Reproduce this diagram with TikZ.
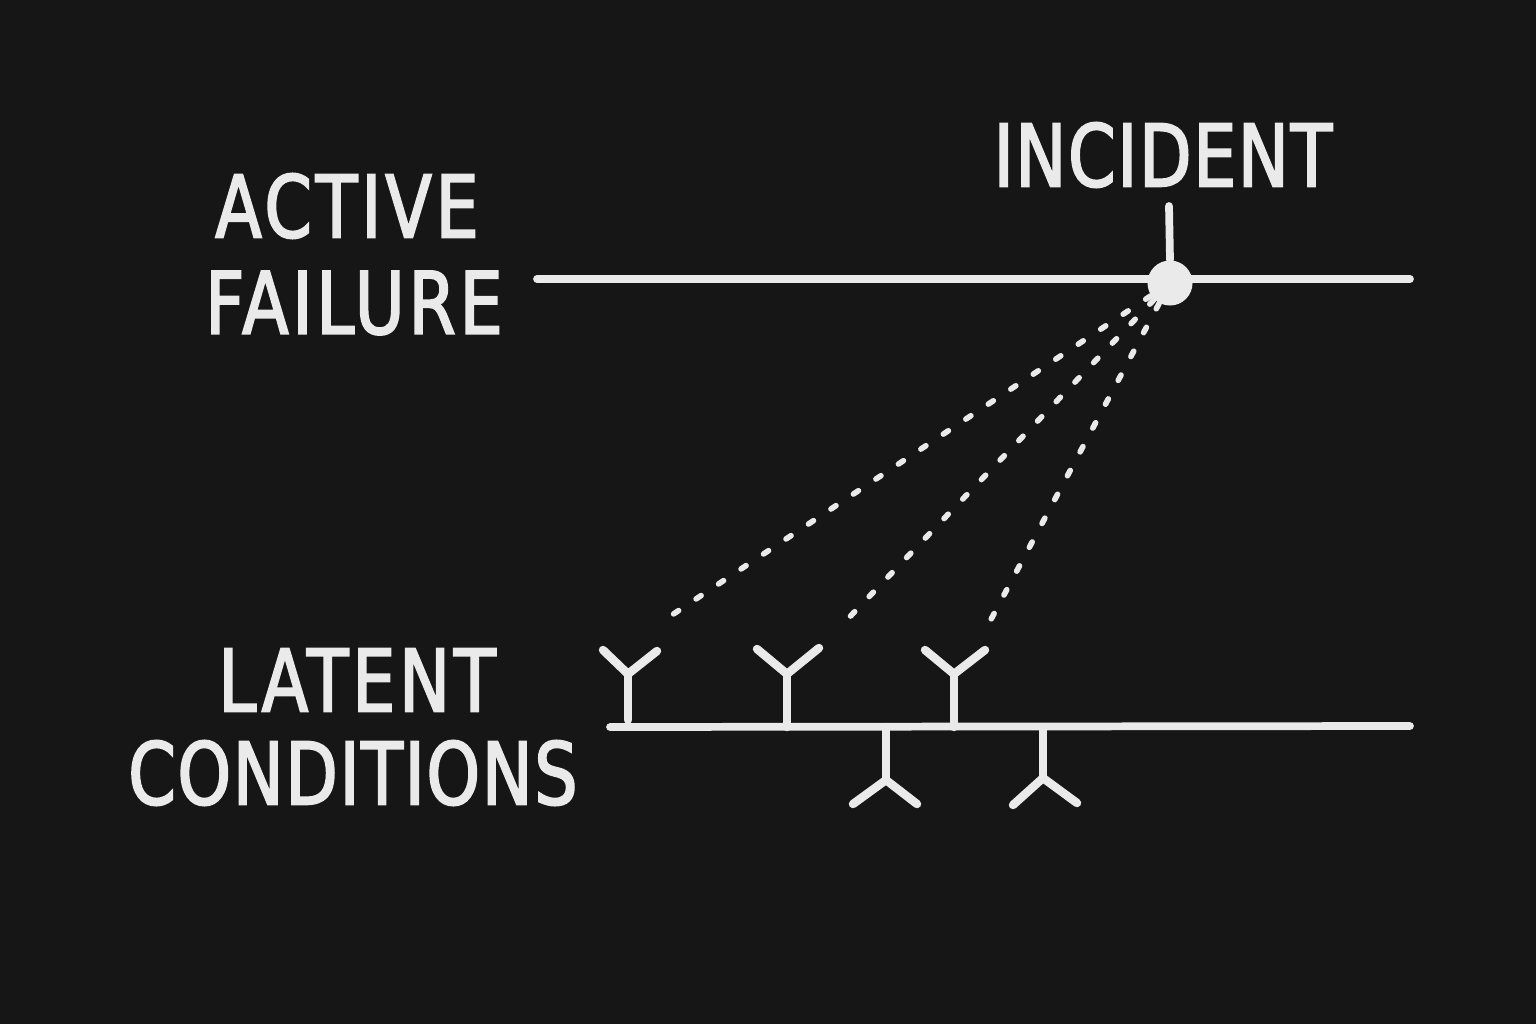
\documentclass[tikz,border=0pt]{standalone}
\usepackage{fontspec}
\newfontfamily\chalkfont[FakeStretch=0.79,FakeBold=2.2,LetterSpace=2]{DejaVu Sans}
\newfontfamily\chalkwide[FakeStretch=0.79,FakeBold=2.2,LetterSpace=4.5]{DejaVu Sans}
\definecolor{board}{HTML}{161616}
\definecolor{chalk}{HTML}{EAEAEA}
\begin{document}
\begin{tikzpicture}[x=0.01cm,y=-0.01cm,
  lbl/.style={text=chalk, font=\chalkfont\fontsize{24.5}{26}\selectfont, inner sep=0pt},
  lblwide/.style={text=chalk, font=\chalkwide\fontsize{24.5}{26}\selectfont, inner sep=0pt},
  rail/.style={draw=chalk, line width=2.2pt, line cap=round},
  prong/.style={draw=chalk, line width=2.4pt, line cap=round, line join=round},
  link/.style={draw=chalk, line width=1.6pt, line cap=round, dash pattern=on 0.06cm off 0.21cm},
  dot/.style={circle, fill=chalk, draw=none, minimum size=0.45cm, inner sep=0pt}]
\fill[board] (0,0) rectangle (1536,1024);
\useasboundingbox (0,0) rectangle (1536,1024);

% labels
\node[lblwide] (active)  at (347,206) {ACTIVE};
\node[lblwide] (failure) at (354,303) {FAILURE};
\node[lbl] (incident) at (1163,155) {INCIDENT};
\node[lblwide] (latent)  at (357,680) {LATENT};
\node[lbl] (conditions) at (353,773) {CONDITIONS};

% rails
\coordinate (t1) at (537,279);
\coordinate (t2) at (1410,279);
\coordinate (b1) at (610,727);
\coordinate (b2) at (1410,726);
\draw[rail] (t1) -- (t2);
\draw[rail] (b1) -- (b2);

% incident point
\node[dot] (inc) at (1170,283) {};
\coordinate (tick) at (1169,206);
\draw[rail] (tick) -- (inc.north);

% latent condition prongs (upward)
\coordinate (u1) at (628,674);
\coordinate (u2) at (787,674);
\coordinate (u3) at (954,674);
\draw[prong] (628,720) -- (u1);
\draw[prong] (603,650) -- (u1) -- (657,651);
\draw[prong] (787,727) -- (u2);
\draw[prong] (757,649) -- (u2) -- (819,648);
\draw[prong] (954,727) -- (u3);
\draw[prong] (925,650) -- (u3) -- (985,650);

% latent condition prongs (downward)
\coordinate (d1) at (886,780);
\coordinate (d2) at (1043,778);
\draw[prong] (886,727) -- (d1);
\draw[prong] (853,804) -- (d1) -- (917,804);
\draw[prong] (1043,727) -- (d2);
\draw[prong] (1013,805) -- (d2) -- (1077,803);

% dotted links
\coordinate (e1) at (657,625);
\coordinate (e2) at (840,627);
\coordinate (e3) at (988,625);
\draw[link] (inc) -- (e1);
\draw[link] (inc) -- (e2);
\draw[link] (inc) -- (e3);
\end{tikzpicture}
\end{document}
